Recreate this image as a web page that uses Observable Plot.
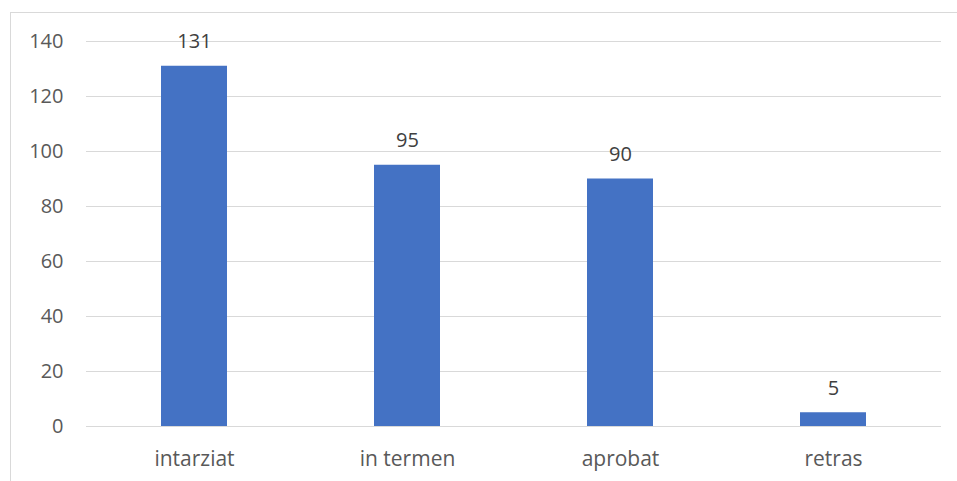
<!DOCTYPE html>
<html>
<head>
<meta charset="utf-8">
<script src="https://cdn.jsdelivr.net/npm/d3@7"></script>
<script src="https://cdn.jsdelivr.net/npm/@observablehq/plot@0.6"></script>
<style>
  html, body { margin: 0; padding: 0; background: #fff; overflow: hidden; }
  #wrap { position: relative; width: 957px; height: 481px; }
  #border { position: absolute; left: 10px; top: 12px; width: 980px; height: 500px; border: 1px solid #d9d9d9; box-sizing: border-box; }
  #chart { position: absolute; left: 0; top: 0; }
</style>
</head>
<body>
<div id="wrap"><div id="border"></div><div id="chart"></div></div>
<script>
const categories = ["intarziat", "in termen", "aprobat", "retras"];
const values = [131, 95, 90, 5];
const yTicks = [0, 20, 40, 60, 80, 100, 120, 140];

const data = categories.map((c, i) => ({category: c, value: values[i]}));

const chart = Plot.plot({
  width: 957,
  height: 481,
  marginLeft: 86,
  marginRight: 16,
  marginTop: 41,
  marginBottom: 55,
  style: {fontFamily: "'Open Sans', sans-serif", fontSize: "20px", color: "#595959", background: "transparent"},
  x: {domain: categories, paddingInner: 0.69, paddingOuter: 0.345, label: null},
  y: {domain: [0, 140], label: null},
  marks: [
    Plot.gridY(yTicks, {stroke: "#d9d9d9", strokeOpacity: 1, strokeWidth: 1}),
    Plot.barY(data, {x: "category", y: "value", fill: "#4472C4"}),
    Plot.text(data, {x: "category", y: "value", text: d => String(d.value), lineAnchor: "bottom", dy: -18, fill: "#404040", fontSize: 20}),
    Plot.axisY(yTicks, {tickSize: 0, tickPadding: 23, fontSize: 20, fill: "#595959", label: null}),
    Plot.axisX({tickSize: 0, tickPadding: 25, fontSize: 21, fill: "#595959", label: null})
  ]
});
document.getElementById("chart").appendChild(chart);
</script>
</body>
</html>
